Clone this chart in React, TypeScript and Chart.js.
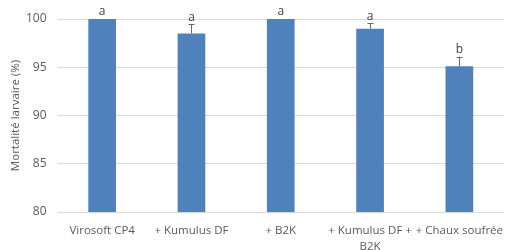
import React, { useEffect, useRef } from "react";
import { Chart, registerables } from "chart.js";

Chart.register(...registerables);

const categories: (string | string[])[] = [
  "Virosoft CP4",
  "+ Kumulus DF",
  "+ B2K",
  ["+ Kumulus DF +", "B2K"],
  "+ Chaux soufrée",
];
const mortality = [100, 98.5, 100, 99.0, 95.1];
const errors = [0, 0.95, 0, 0.55, 1.0];
const letters = ["a", "a", "a", "a", "b"];
const yTicks = { min: 80, max: 100, step: 5 };

const FONT = "'Open Sans', 'Liberation Sans', sans-serif";
const TEXT = "#595959";

const errorPlugin = {
  id: "errorLetters",
  afterDatasetsDraw(chart: any) {
    const ctx = chart.ctx;
    const meta = chart.getDatasetMeta(0);
    const y = chart.scales.y;
    ctx.save();
    meta.data.forEach((bar: any, i: number) => {
      const v = mortality[i];
      const e = errors[i];
      const x = bar.x;
      const yTop = y.getPixelForValue(v + e);
      if (e > 0) {
        const yv = y.getPixelForValue(v);
        ctx.strokeStyle = "#5a6a7a";
        ctx.lineWidth = 1;
        ctx.beginPath();
        ctx.moveTo(Math.round(x) + 0.5, yv);
        ctx.lineTo(Math.round(x) + 0.5, yTop);
        ctx.moveTo(Math.round(x) - 2.5, Math.round(yTop) + 0.5);
        ctx.lineTo(Math.round(x) + 3.5, Math.round(yTop) + 0.5);
        ctx.stroke();
      }
      ctx.fillStyle = "#404040";
      ctx.font = `12px ${FONT}`;
      ctx.textAlign = "center";
      ctx.textBaseline = "bottom";
      ctx.fillText(letters[i], x, yTop - 1);
    });
    ctx.restore();
  },
};

export default function App() {
  const ref = useRef<HTMLCanvasElement>(null);
  useEffect(() => {
    if (!ref.current) return;
    const chart = new Chart(ref.current, {
      type: "bar",
      data: {
        labels: categories,
        datasets: [
          {
            data: mortality,
            backgroundColor: "#4F81BD",
            barPercentage: 0.31,
            categoryPercentage: 1,
          },
        ],
      },
      options: {
        responsive: false,
        animation: false,
        layout: { padding: { top: 19, right: 0, left: 0, bottom: 0 } },
        plugins: { legend: { display: false }, tooltip: { enabled: false } },
        scales: {
          x: {
            grid: { display: false, drawTicks: false },
            border: { display: false },
            ticks: {
              color: TEXT,
              font: { family: FONT, size: 11.5, lineHeight: 1.45 },
              padding: 10,
              maxRotation: 0,
              autoSkip: false,
            },
            afterFit: (s: any) => {
              s.height = 38;
            },
          },
          y: {
            min: yTicks.min,
            max: yTicks.max,
            grid: { color: "#d9d9d9", drawTicks: false },
            border: { display: false },
            ticks: { stepSize: yTicks.step, color: TEXT, font: { family: FONT, size: 12 }, padding: 11 },
            title: {
              display: true,
              text: "Mortalité larvaire (%)",
              color: TEXT,
              font: { family: FONT, size: 11.5 },
              padding: { top: 9, bottom: 4 },
            },
            afterFit: (s: any) => {
              s.width = 57.5;
            },
          },
        },
      },
      plugins: [errorPlugin],
    });
    return () => chart.destroy();
  }, []);
  return (
    <div style={{ position: "absolute", left: 0, top: 0, width: 513, height: 250, background: "#fff" }}>
      <canvas ref={ref} width={513} height={250} />
    </div>
  );
}
